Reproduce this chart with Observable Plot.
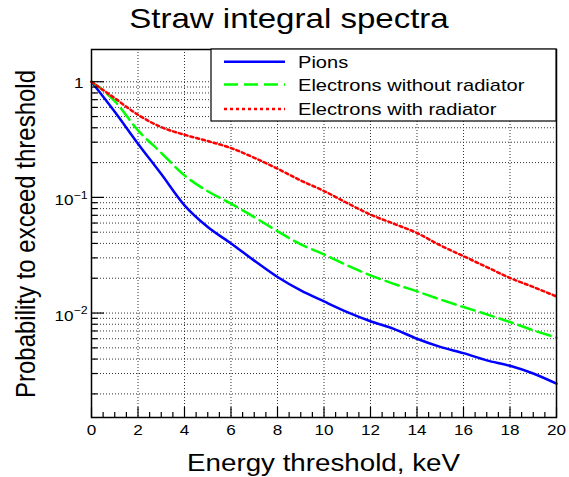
<!DOCTYPE html>
<html>
<head>
<meta charset="utf-8">
<script src="https://cdn.jsdelivr.net/npm/d3@7"></script>
<script src="https://cdn.jsdelivr.net/npm/@observablehq/plot@0.6"></script>
<style>
  html, body { margin: 0; padding: 0; background: #fff; }
  #chart svg { display: block; }
</style>
</head>
<body>
<div id="chart"></div>
<script>
// ---------- data ----------
const energy = [0,1,2,3,4,5,6,7,8,9,10,11,12,13,14,15,16,17,18,19,20];
const pions = [1, 0.55, 0.291, 0.159, 0.0853, 0.0554, 0.0400, 0.0284, 0.0205, 0.0157, 0.0126,
               0.0102, 0.0085, 0.0073, 0.0060, 0.0051, 0.0045, 0.0039, 0.0035, 0.0030, 0.00245];
const electronsNoRad = [1, 0.68, 0.38, 0.243, 0.155, 0.113, 0.0883, 0.0676, 0.051, 0.0393, 0.0321,
                        0.0258, 0.0212, 0.0179, 0.0154, 0.0131, 0.01127, 0.00975, 0.00836, 0.0071, 0.00613];
const electronsRad = [1, 0.72, 0.518, 0.405, 0.348, 0.307, 0.267, 0.22, 0.177, 0.140, 0.1135,
                      0.0893, 0.071, 0.0592, 0.0492, 0.0385, 0.031, 0.025, 0.0201, 0.0168, 0.0139];

const seriesNames = ["Pions", "Electrons without radiator", "Electrons with radiator"];
const seriesColors = ["#0000ff", "#00ff00", "#ff0000"];
const seriesDash = [null, "14,6", "3,3"];

const xTickValues = [0,2,4,6,8,10,12,14,16,18,20];
const xMinorValues = [0.5,1,1.5,2.5,3,3.5,4.5,5,5.5,6.5,7,7.5,8.5,9,9.5,10.5,11,11.5,12.5,13,13.5,
                      14.5,15,15.5,16.5,17,17.5,18.5,19,19.5];
const xGridValues = [2,4,6,8,10,12,14,16,18];
const yLabelValues = [1, 0.1, 0.01];
const yLabelBase = ["1", "10", "10"];
const yLabelExp = ["", "\u22121", "\u22122"];
const yMinorValues = [0.002,0.003,0.004,0.005,0.006,0.007,0.008,0.009,
                      0.02,0.03,0.04,0.05,0.06,0.07,0.08,0.09,
                      0.2,0.3,0.4,0.5,0.6,0.7,0.8,0.9];
const yGridValues = yMinorValues.concat(yLabelValues);

const titleText = "Straw integral spectra";
const xLabelText = "Energy threshold, keV";
const yLabelText = "Probability to exceed threshold";

const X_DOMAIN = [0, 20];
const Y_DOMAIN = [0.00125, 1.9];

// ---------- table ----------
const seriesValues = [pions, electronsNoRad, electronsRad];
const rows = [];
seriesNames.forEach((name, s) => {
  energy.forEach((e, i) => rows.push({series: name, energy: e, value: seriesValues[s][i]}));
});

const FONT = "'Liberation Sans', Arial, Helvetica, sans-serif";
const STRETCH = 1.18;

const lineMarks = seriesNames.map((name, s) =>
  Plot.line(rows.filter(d => d.series === name), {
    x: "energy", y: "value",
    stroke: seriesColors[s], strokeWidth: 2.5,
    strokeDasharray: seriesDash[s] || undefined,
    curve: "monotone-x"
  })
);

const plot = Plot.plot({
  width: 569, height: 477,
  marginLeft: 91, marginRight: 13, marginTop: 49, marginBottom: 60,
  x: {domain: X_DOMAIN, axis: null},
  y: {type: "log", domain: Y_DOMAIN, axis: null},
  style: {fontFamily: FONT, fontSize: "14px", background: "#fff", color: "#000"},
  marks: [
    Plot.ruleX(xGridValues, {x: d => d, stroke: "#333", strokeWidth: 1, strokeDasharray: "1,2"}),
    Plot.ruleY(yGridValues, {y: d => d, stroke: "#333", strokeWidth: 1, strokeDasharray: "1,2"}),
    ...lineMarks,
    // x ticks (inward)
    Plot.ruleX(xMinorValues, {x: d => d, y1: Y_DOMAIN[0], y2: Y_DOMAIN[0], insetBottom: 5, stroke: "#000", strokeWidth: 1.2}),
    Plot.ruleX(xTickValues, {x: d => d, y1: Y_DOMAIN[0], y2: Y_DOMAIN[0], insetBottom: 10, stroke: "#000", strokeWidth: 1.2}),
    // y ticks (inward)
    Plot.ruleY(yMinorValues, {y: d => d, x1: X_DOMAIN[0], x2: X_DOMAIN[0], insetRight: -6.5, stroke: "#000", strokeWidth: 1.2}),
    Plot.ruleY(yLabelValues, {y: d => d, x1: X_DOMAIN[0], x2: X_DOMAIN[0], insetRight: -13, stroke: "#000", strokeWidth: 1.2}),
    // tick labels
    Plot.text(xTickValues, {x: d => d, y: Y_DOMAIN[0], text: d => String(d), lineAnchor: "top", dy: 7, fontSize: 14.5}),
    Plot.text(yLabelValues.filter((v, i) => yLabelExp[i] === ""), {
      x: X_DOMAIN[0], y: d => d, text: d => yLabelBase[yLabelValues.indexOf(d)],
      textAnchor: "end", dx: -8, dy: 1.5, fontSize: 14.5}),
    Plot.text(yLabelValues.filter((v, i) => yLabelExp[i] !== ""), {
      x: X_DOMAIN[0], y: d => d, text: d => yLabelBase[yLabelValues.indexOf(d)],
      textAnchor: "end", dx: -18, dy: 3, fontSize: 14.5}),
    Plot.text(yLabelValues.filter((v, i) => yLabelExp[i] !== ""), {
      x: X_DOMAIN[0], y: d => d, text: d => yLabelExp[yLabelValues.indexOf(d)],
      textAnchor: "start", dx: -18, dy: -2, fontSize: 10.5}),
    Plot.frame({stroke: "#000", strokeWidth: 1.5})
  ]
});

document.getElementById("chart").appendChild(plot);
const svg = d3.select(plot);

// stretch Plot text horizontally (reference text is wide)
svg.selectAll("text").each(function() {
  const len = this.getComputedTextLength();
  if (len > 0) {
    this.setAttribute("textLength", len * STRETCH);
    this.setAttribute("lengthAdjust", "spacingAndGlyphs");
  }
});

function stretchText(sel) {
  const node = sel.node();
  const len = node.getComputedTextLength();
  sel.attr("textLength", len * STRETCH).attr("lengthAdjust", "spacingAndGlyphs");
  return sel;
}

// title
stretchText(svg.append("text")
  .attr("x", 289).attr("y", 28)
  .attr("text-anchor", "middle")
  .attr("font-family", FONT).attr("font-size", 28).attr("fill", "#000")
  .text(titleText));

// x label
stretchText(svg.append("text")
  .attr("x", 323.5).attr("y", 471)
  .attr("text-anchor", "middle")
  .attr("font-family", FONT).attr("font-size", 23.5).attr("fill", "#000")
  .text(xLabelText));

// y label (rotated, thickness stretched)
svg.append("g")
  .attr("transform", `translate(35,234) scale(${STRETCH},1) rotate(-90)`)
  .append("text")
  .attr("text-anchor", "middle")
  .attr("font-family", FONT).attr("font-size", 24).attr("fill", "#000")
  .text(yLabelText);

// legend
const lg = svg.append("g");
lg.append("rect").attr("x", 211).attr("y", 49).attr("width", 345).attr("height", 72)
  .attr("fill", "#fff").attr("stroke", "#000").attr("stroke-width", 1.2);
const rowY = [61.7, 84.5, 109];
seriesNames.forEach((name, s) => {
  lg.append("line").attr("x1", 224).attr("x2", 285).attr("y1", rowY[s]).attr("y2", rowY[s])
    .attr("stroke", seriesColors[s]).attr("stroke-width", 2.5)
    .attr("stroke-dasharray", seriesDash[s]);
  stretchText(lg.append("text").attr("x", 298).attr("y", rowY[s] + 6)
    .attr("text-anchor", "start")
    .attr("font-family", FONT).attr("font-size", 17).attr("fill", "#000")
    .text(name));
});
</script>
</body>
</html>
